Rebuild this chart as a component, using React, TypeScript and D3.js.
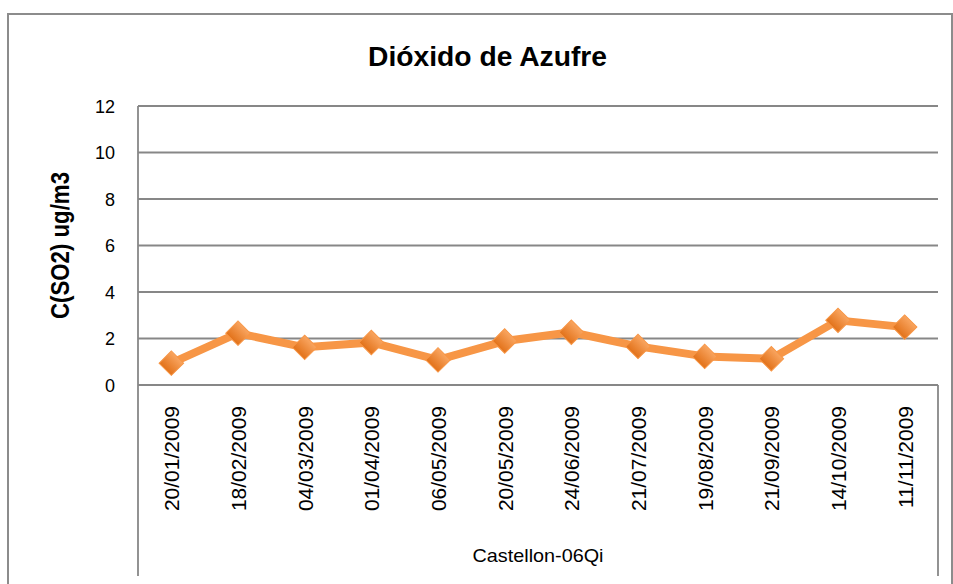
import { useRef, useEffect } from "react";
import * as d3 from "d3";

// sampling dates (category axis)
const dates = [
  "20/01/2009",
  "18/02/2009",
  "04/03/2009",
  "01/04/2009",
  "06/05/2009",
  "20/05/2009",
  "24/06/2009",
  "21/07/2009",
  "19/08/2009",
  "21/09/2009",
  "14/10/2009",
  "11/11/2009",
];

// C(SO2) ug/m3
const so2 = [0.94, 2.23, 1.62, 1.83, 1.08, 1.89, 2.27, 1.66, 1.23, 1.13, 2.78, 2.49];

const yTicks = [0, 2, 4, 6, 8, 10, 12];

const title = "Dióxido de Azufre";
const yTitle = "C(SO2) ug/m3";
const groupLabel = "Castellon-06Qi";

const W = 953;
const H = 584;
const margin = { top: 106, right: 15, bottom: 199, left: 138 };
const grey = "#878787";
const orange = "#F79646";

export default function App() {
  const ref = useRef<SVGSVGElement>(null);

  useEffect(() => {
    const svg = d3.select(ref.current);
    svg.selectAll("*").remove();

    const x0 = margin.left;
    const x1 = W - margin.right;
    const y0 = H - margin.bottom;
    const y1 = margin.top;

    const x = d3.scaleBand().domain(dates).range([x0, x1]);
    const y = d3.scaleLinear().domain([0, 12]).range([y0, y1]);

    const defs = svg.append("defs");
    const grad = defs
      .append("linearGradient")
      .attr("id", "mk")
      .attr("x1", 0)
      .attr("y1", 0)
      .attr("x2", 0)
      .attr("y2", 1);
    grad.append("stop").attr("offset", "0%").attr("stop-color", "#F9A560");
    grad.append("stop").attr("offset", "100%").attr("stop-color", "#E2721A");

    // outer chart frame
    svg
      .append("rect")
      .attr("x", 8)
      .attr("y", 14)
      .attr("width", 944)
      .attr("height", 620)
      .attr("fill", "white")
      .attr("stroke", "#8c8c8c")
      .attr("stroke-width", 2);

    // title
    svg
      .append("text")
      .attr("x", 487.5)
      .attr("y", 66)
      .attr("text-anchor", "middle")
      .attr("font-family", "'Liberation Sans', Arial, sans-serif")
      .attr("font-weight", "bold")
      .attr("font-size", 28)
      .attr("textLength", 239)
      .attr("lengthAdjust", "spacingAndGlyphs")
      .text(title);

    // horizontal gridlines
    svg
      .append("g")
      .selectAll("line")
      .data(yTicks.filter((d) => d > 0))
      .join("line")
      .attr("x1", x0)
      .attr("x2", x1)
      .attr("y1", (d) => y(d))
      .attr("y2", (d) => y(d))
      .attr("stroke", grey)
      .attr("stroke-width", 1.8);

    // y tick labels
    svg
      .append("g")
      .selectAll("text")
      .data(yTicks)
      .join("text")
      .attr("x", 115)
      .attr("y", (d) => y(d) + 6.5)
      .attr("text-anchor", "end")
      .attr("font-family", "'Liberation Sans', Arial, sans-serif")
      .attr("font-size", 18)
      .attr("fill", "#000")
      .text((d) => d);

    // y axis title
    svg
      .append("text")
      .attr("transform", `translate(69, ${(y0 + y1) / 2}) rotate(-90)`)
      .attr("text-anchor", "middle")
      .attr("font-family", "'Liberation Sans', Arial, sans-serif")
      .attr("font-weight", "bold")
      .attr("font-size", 25)
      .attr("textLength", 147)
      .attr("lengthAdjust", "spacingAndGlyphs")
      .text(yTitle);

    // axis lines + category box
    const axis = svg.append("g").attr("stroke", grey).attr("stroke-width", 1.8);
    axis.append("line").attr("x1", x0).attr("x2", x0).attr("y1", y1).attr("y2", 576);
    axis.append("line").attr("x1", x0).attr("x2", x1).attr("y1", y0).attr("y2", y0);
    axis.append("line").attr("x1", x1).attr("x2", x1).attr("y1", y0).attr("y2", 576);

    // rotated date labels
    svg
      .append("g")
      .selectAll("text")
      .data(dates)
      .join("text")
      .attr("transform", (d) => `translate(${x(d)! + x.bandwidth() / 2 + 8}, 406) rotate(-90)`)
      .attr("text-anchor", "end")
      .attr("font-family", "'Liberation Sans', Arial, sans-serif")
      .attr("font-size", 21)
      .attr("fill", "#000")
      .text((d) => d);

    // group label
    svg
      .append("text")
      .attr("x", (x0 + x1) / 2)
      .attr("y", 562)
      .attr("text-anchor", "middle")
      .attr("font-family", "'Liberation Sans', Arial, sans-serif")
      .attr("font-size", 19)
      .attr("textLength", 131)
      .attr("lengthAdjust", "spacingAndGlyphs")
      .text(groupLabel);

    // the line
    const cx = (i: number) => x(dates[i])! + x.bandwidth() / 2;
    const valueLine = d3
      .line<number>()
      .x((d, i) => cx(i))
      .y((d) => y(d));

    svg
      .append("path")
      .datum(so2)
      .attr("fill", "none")
      .attr("stroke", orange)
      .attr("stroke-width", 8)
      .attr("stroke-linejoin", "round")
      .attr("d", valueLine);

    // diamond markers
    const diamond = d3.symbol(d3.symbolSquare, 300);
    svg
      .append("g")
      .selectAll("path")
      .data(so2)
      .join("path")
      .attr("transform", (d, i) => `translate(${cx(i)}, ${y(d)}) rotate(45)`)
      .attr("d", diamond)
      .attr("fill", "url(#mk)")
      .attr("stroke", orange)
      .attr("stroke-width", 1);
  }, []);

  return (
    <svg
      ref={ref}
      width={W}
      height={H}
      style={{ position: "absolute", left: 0, top: 0, background: "white" }}
    />
  );
}
